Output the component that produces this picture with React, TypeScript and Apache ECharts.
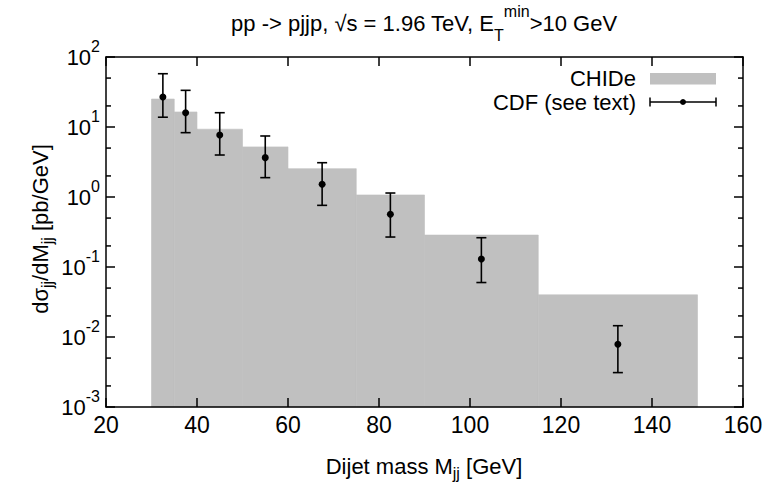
import React, { useEffect, useRef } from "react";
import * as echarts from "echarts";

// CHIDe histogram bins (GeV) and values (pb/GeV)
const binLow = [30, 35, 40, 50, 60, 75, 90, 115];
const binHigh = [35, 40, 50, 60, 75, 90, 115, 150];
const chideValues = [25.1, 16.4, 9.3, 5.2, 2.54, 1.07, 0.286, 0.04];

// CDF data points with error bars
const cdfMass = [32.5, 37.5, 45, 55, 67.5, 82.5, 102.5, 132.5];
const cdfValues = [26.8, 16.0, 7.7, 3.65, 1.52, 0.566, 0.13, 0.0079];
const cdfUpper = [57.7, 33.4, 16.0, 7.44, 3.09, 1.14, 0.262, 0.0145];
const cdfLower = [13.8, 8.3, 3.98, 1.89, 0.76, 0.268, 0.06, 0.0031];

// axes
const xMin = 20;
const xMax = 160;
const xStep = 20;
const yMin = 1e-3;
const yMax = 1e2;
const yDecades = [-3, -2, -1, 0, 1];
const minorMantissas = [2, 5];

const FONT = '"Liberation Sans", Arial, Helvetica, sans-serif';
const BLACK = "#000";
const GREY = "#c0c0c0";

export default function App() {
  const ref = useRef<HTMLDivElement>(null);

  useEffect(() => {
    if (!ref.current) return;
    const chart = echarts.init(ref.current, undefined, { renderer: "svg" });

    const minorTicks: number[][] = [];
    yDecades.forEach((e) =>
      minorMantissas.forEach((m) => minorTicks.push([xMin, m * Math.pow(10, e)]))
    );

    const yLabelRich = {
      b: { fontSize: 22, lineHeight: 38, fontFamily: FONT, color: BLACK },
      s: { fontSize: 16, lineHeight: 16, verticalAlign: "top", fontFamily: FONT, color: BLACK },
    };

    const baseAxisX = {
      type: "value",
      min: xMin,
      max: xMax,
      interval: xStep,
      z: 10,
      axisLine: { show: true, onZero: false, lineStyle: { color: BLACK, width: 1.5 } },
      axisTick: { show: true, inside: true, length: 9, lineStyle: { color: BLACK, width: 1.5 } },
      splitLine: { show: false },
    };
    const baseAxisY = {
      type: "log",
      logBase: 10,
      min: yMin,
      max: yMax,
      z: 10,
      axisLine: { show: true, onZero: false, lineStyle: { color: BLACK, width: 1.5 } },
      axisTick: { show: true, inside: true, length: 9, lineStyle: { color: BLACK, width: 1.5 } },
      splitLine: { show: false },
    };

    const richTitle = {
      n: { fontSize: 22, lineHeight: 40, fontFamily: FONT, color: BLACK },
      sub: { fontSize: 16, lineHeight: 26, verticalAlign: "bottom", fontFamily: FONT, color: BLACK },
      sup: { fontSize: 16, lineHeight: 18, verticalAlign: "top", fontFamily: FONT, color: BLACK },
    };
    const richName = {
      n: { fontSize: 22, lineHeight: 30, fontFamily: FONT, color: BLACK },
      sub: { fontSize: 16, lineHeight: 14, verticalAlign: "bottom", fontFamily: FONT, color: BLACK },
    };

    const option: any = {
      animation: false,
      backgroundColor: "#fff",
      grid: { left: 106, right: 24, top: 57, bottom: 76, containLabel: false },
      xAxis: [
        {
          ...baseAxisX,
          position: "bottom",
          axisLabel: { show: true, fontSize: 23, fontFamily: FONT, color: BLACK, margin: 6 },
        },
        { ...baseAxisX, position: "top", axisLabel: { show: false } },
      ],
      yAxis: [
        {
          ...baseAxisY,
          position: "left",
          axisLabel: {
            show: true,
            margin: 6,
            formatter: (v: number) => `{b|10}{s|${Math.round(Math.log10(v))}}`,
            rich: yLabelRich,
          },
        },
        { ...baseAxisY, position: "right", axisLabel: { show: false } },
      ],
      series: [
        {
          type: "custom",
          name: "CHIDe",
          xAxisIndex: 0,
          yAxisIndex: 0,
          encode: { x: [0, 1], y: 2 },
          data: binLow.map((l, i) => [l, binHigh[i], chideValues[i]]),
          z: 2,
          renderItem: (params: any, api: any) => {
            const p0 = api.coord([api.value(0), api.value(2)]);
            const p1 = api.coord([api.value(1), yMin]);
            return {
              type: "rect",
              shape: { x: p0[0], y: p0[1], width: p1[0] - p0[0], height: p1[1] - p0[1] },
              style: { fill: GREY, stroke: GREY, lineWidth: 0.6 },
            };
          },
        },
        {
          type: "custom",
          name: "minor ticks",
          xAxisIndex: 0,
          yAxisIndex: 0,
          encode: { x: 0, y: 1 },
          data: minorTicks,
          z: 11,
          silent: true,
          renderItem: (params: any, api: any) => {
            const pl = api.coord([xMin, api.value(1)]);
            const pr = api.coord([xMax, api.value(1)]);
            const st = { stroke: BLACK, lineWidth: 1.5 };
            return {
              type: "group",
              children: [
                { type: "line", shape: { x1: pl[0], y1: pl[1], x2: pl[0] + 5, y2: pl[1] }, style: st },
                { type: "line", shape: { x1: pr[0] - 5, y1: pr[1], x2: pr[0], y2: pr[1] }, style: st },
              ],
            };
          },
        },
        {
          type: "custom",
          name: "CDF (see text)",
          xAxisIndex: 0,
          yAxisIndex: 0,
          encode: { x: 0, y: [1, 2, 3] },
          data: cdfMass.map((m, i) => [m, cdfValues[i], cdfLower[i], cdfUpper[i]]),
          z: 5,
          renderItem: (params: any, api: any) => {
            const x = api.value(0);
            const pc = api.coord([x, api.value(1)]);
            const pb = api.coord([x, api.value(2)]);
            const pt = api.coord([x, api.value(3)]);
            const st = { stroke: BLACK, lineWidth: 1.6 };
            const w = 5;
            return {
              type: "group",
              children: [
                { type: "line", shape: { x1: pc[0], y1: pt[1], x2: pc[0], y2: pb[1] }, style: st },
                { type: "line", shape: { x1: pc[0] - w, y1: pt[1], x2: pc[0] + w, y2: pt[1] }, style: st },
                { type: "line", shape: { x1: pc[0] - w, y1: pb[1], x2: pc[0] + w, y2: pb[1] }, style: st },
                { type: "circle", shape: { cx: pc[0], cy: pc[1], r: 3.5 }, style: { fill: BLACK } },
              ],
            };
          },
        },
      ],
      graphic: [
        {
          type: "text",
          x: 424,
          y: 23,
          style: {
            text: "{n|pp -> pjjp, √s = 1.96 TeV, E}{sub|T}{sup|min}{n|>10 GeV}",
            rich: richTitle,
            align: "center",
            verticalAlign: "middle",
          },
        },
        {
          type: "text",
          x: 424,
          y: 466,
          style: {
            text: "{n|Dijet mass M}{sub|jj}{n| [GeV]}",
            rich: richName,
            align: "center",
            verticalAlign: "middle",
          },
        },
        {
          type: "text",
          x: 40,
          y: 229,
          rotation: Math.PI / 2,
          style: {
            text: "{n|dσ}{sub|jj}{n|/dM}{sub|jj}{n| [pb/GeV]}",
            rich: richName,
            align: "center",
            verticalAlign: "middle",
          },
        },
        // legend
        {
          type: "text",
          x: 636,
          y: 78,
          style: {
            text: "CHIDe",
            font: `22px ${FONT}`,
            lineHeight: 20,
            fill: BLACK,
            align: "right",
            verticalAlign: "middle",
          },
        },
        { type: "rect", shape: { x: 650, y: 73, width: 66, height: 11.5 }, style: { fill: GREY } },
        {
          type: "text",
          x: 636,
          y: 102,
          style: {
            text: "CDF (see text)",
            font: `22px ${FONT}`,
            lineHeight: 20,
            fill: BLACK,
            align: "right",
            verticalAlign: "middle",
          },
        },
        { type: "line", shape: { x1: 650, y1: 102, x2: 716, y2: 102 }, style: { stroke: BLACK, lineWidth: 1.5 } },
        { type: "line", shape: { x1: 650, y1: 97.5, x2: 650, y2: 106.5 }, style: { stroke: BLACK, lineWidth: 1.5 } },
        { type: "line", shape: { x1: 716, y1: 97.5, x2: 716, y2: 106.5 }, style: { stroke: BLACK, lineWidth: 1.5 } },
        { type: "circle", shape: { cx: 683, cy: 102, r: 3 }, style: { fill: BLACK } },
      ],
    };

    chart.setOption(option);
    return () => chart.dispose();
  }, []);

  return <div ref={ref} style={{ width: 767, height: 483, position: "absolute", left: 0, top: 0 }} />;
}
